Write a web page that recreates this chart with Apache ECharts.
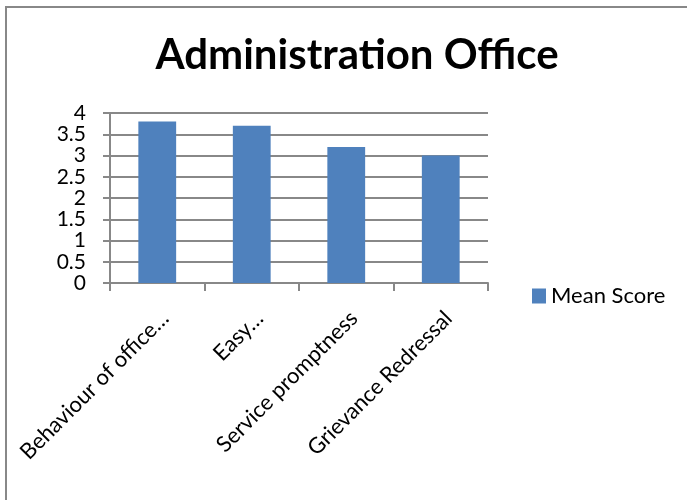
<!DOCTYPE html>
<html><head><meta charset="utf-8">
<script src="https://cdn.jsdelivr.net/npm/echarts@6/dist/echarts.min.js"></script>
<style>html,body{margin:0;padding:0;background:#fff}#c{width:687px;height:500px}</style>
</head><body><div id="c"></div>
<script>
const categories = ["Behaviour of office…", "Easy…", "Service promptness", "Grievance Redressal"];
const meanScore = [3.8, 3.7, 3.2, 3.0];
const yTicks = ["0", "0.5", "1", "1.5", "2", "2.5", "3", "3.5", "4"];
const seriesName = "Mean Score";
const titleText = "Administration Office";

const FONT = "Lato";
const chart = echarts.init(document.getElementById('c'));
chart.setOption({
  animation: false,
  backgroundColor: '#fff',
  title: {
    text: titleText, left: 352, top: 29, textAlign: 'center',
    textStyle: { fontFamily: FONT, fontWeight: 'bold', fontSize: 42, color: '#000' }
  },
  legend: {
    data: [seriesName], left: 527, top: 280, itemWidth: 14, itemHeight: 15, itemGap: 6,
    icon: 'rect',
    textStyle: { fontFamily: FONT, fontSize: 22, color: '#000', padding: [0, 0, 0, 0] }
  },
  grid: { left: 110, right: 199, top: 113, bottom: 217, containLabel: false },
  xAxis: {
    type: 'category', data: categories, boundaryGap: true,
    axisLine: { lineStyle: { color: '#888', width: 2 } },
    axisTick: { show: true, alignWithLabel: false, length: 8, lineStyle: { color: '#888', width: 2 } },
    axisLabel: { rotate: 45, margin: 24, interval: 0, verticalAlign: 'top', fontFamily: FONT, fontSize: 22, color: '#000' }
  },
  yAxis: {
    type: 'value', min: 0, max: 4, interval: 0.5,
    axisLine: { show: true, lineStyle: { color: '#888', width: 2 } },
    axisTick: { show: true, length: 7, lineStyle: { color: '#888', width: 2 } },
    splitLine: { lineStyle: { color: '#888', width: 2 } },
    axisLabel: { margin: 24, align: 'right', fontFamily: FONT, fontSize: 21, color: '#000',
      formatter: (v) => yTicks[Math.round(v * 2)] }
  },
  series: [{
    name: seriesName, type: 'bar', data: meanScore, barWidth: '40%',
    itemStyle: { color: '#4F81BD' }
  }],
  graphic: [
    { type: 'line', shape: { x1: 5, y1: 7, x2: 687, y2: 7 }, style: { stroke: '#888', lineWidth: 2 } },
    { type: 'line', shape: { x1: 6, y1: 7, x2: 6, y2: 500 }, style: { stroke: '#888', lineWidth: 2 } }
  ]
});
</script></body></html>
